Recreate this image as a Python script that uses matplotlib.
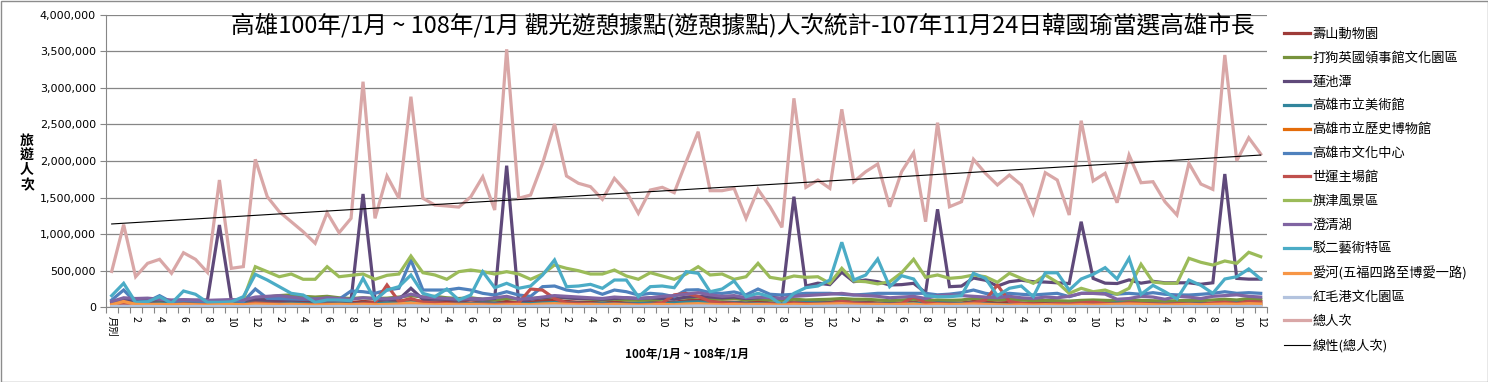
import numpy as np
import matplotlib
matplotlib.use('Agg')
import matplotlib.pyplot as plt
from matplotlib.ticker import FuncFormatter
from matplotlib.patches import Rectangle

plt.rcParams['font.family'] = ['Noto Sans CJK TC', 'DejaVu Sans']

# x categories: first one is labelled 月別, then months 1..12 for 8 years
tick_labels = ['月別'] + [str(m) for m in range(1, 13)] * 8

title = '高雄100年/1月 ~ 108年/1月 觀光遊憩據點(遊憩據點)人次統計-107年11月24日韓國瑜當選高雄市長'
x_title = '100年/1月 ~ 108年/1月'
y_title = '旅\n遊\n人\n次'

# values in thousands of visitors
shoushan_zoo = [60,
    80, 60, 70, 75, 60, 65, 70, 60, 70, 60, 55, 90,
    80, 70, 75, 70, 60, 70, 60, 65, 80, 70, 60, 80,
    100, 80, 70, 75, 70, 60, 70, 60, 80, 60, 70, 90,
    100, 80, 70, 70, 60, 70, 60, 55, 65, 60, 70, 90,
    100, 80, 70, 70, 60, 80, 60, 50, 70, 60, 65, 70,
    90, 70, 70, 60, 55, 60, 70, 50, 65, 60, 60, 80,
    70, 60, 65, 60, 50, 55, 50, 45, 60, 55, 60, 50,
    70, 60, 50, 45, 50, 60, 50, 55, 70, 60, 90, 80]
british_consulate = [60,
    80, 70, 75, 90, 80, 85, 80, 75, 80, 85, 90, 120,
    140, 160, 170, 150, 140, 150, 130, 120, 130, 120, 125, 140,
    160, 140, 150, 130, 120, 130, 110, 100, 120, 110, 120, 130,
    140, 130, 120, 110, 100, 110, 100, 95, 100, 110, 120, 130,
    140, 120, 110, 120, 100, 110, 100, 95, 110, 100, 105, 110,
    120, 110, 110, 100, 90, 100, 110, 90, 100, 95, 100, 120,
    110, 100, 110, 100, 90, 95, 90, 85, 95, 100, 95, 90,
    100, 95, 90, 85, 90, 95, 90, 100, 110, 100, 120, 110]
lotus_pond = [70,
    110, 90, 95, 100, 90, 95, 95, 100, 1125, 90, 90, 110,
    100, 100, 95, 100, 95, 100, 100, 100, 1549, 110, 100, 110,
    260, 110, 110, 110, 100, 110, 110, 120, 1936, 70, 110, 130,
    150, 130, 120, 120, 110, 120, 130, 120, 130, 120, 110, 140,
    150, 140, 130, 140, 120, 130, 140, 120, 1512, 290, 330, 310,
    480, 350, 373, 350, 305, 310, 328, 200, 1340, 282, 290, 400,
    370, 290, 350, 370, 350, 345, 335, 325, 1170, 395, 330, 325,
    375, 330, 355, 335, 335, 335, 315, 335, 1822, 395, 385, 385]
fine_arts_museum = [40,
    50, 45, 50, 55, 50, 45, 50, 45, 50, 55, 50, 60,
    55, 50, 55, 50, 45, 55, 50, 45, 55, 50, 60, 55,
    70, 60, 55, 50, 55, 50, 60, 55, 50, 45, 50, 60,
    65, 60, 55, 50, 55, 50, 45, 50, 55, 50, 60, 70,
    75, 60, 55, 60, 55, 50, 55, 45, 60, 65, 60, 55,
    70, 60, 55, 50, 45, 50, 55, 45, 60, 55, 50, 60,
    45, 40, 35, 40, 35, 40, 45, 40, 45, 50, 45, 60,
    55, 50, 45, 40, 45, 50, 45, 50, 55, 60, 50, 45]
history_museum = [20,
    25, 20, 22, 25, 20, 22, 25, 20, 25, 22, 20, 30,
    28, 25, 22, 25, 20, 25, 22, 20, 25, 22, 20, 30,
    35, 25, 22, 25, 20, 25, 22, 20, 25, 22, 20, 28,
    30, 25, 22, 25, 20, 25, 22, 20, 25, 22, 25, 30,
    32, 25, 22, 25, 20, 25, 22, 20, 28, 25, 22, 28,
    30, 25, 22, 25, 20, 25, 22, 20, 25, 22, 20, 28,
    25, 22, 20, 22, 20, 22, 20, 18, 22, 20, 22, 25,
    28, 25, 22, 20, 22, 25, 22, 25, 28, 25, 30, 28]
cultural_center = [100,
    236, 68, 80, 159, 70, 90, 85, 80, 90, 95, 80, 250,
    123, 120, 115, 110, 115, 120, 110, 223, 213, 191, 236, 260,
    647, 236, 236, 236, 260, 236, 191, 168, 213, 168, 150, 282,
    291, 236, 213, 236, 178, 236, 213, 168, 191, 178, 145, 236,
    240, 200, 190, 210, 170, 250, 178, 168, 178, 191, 191, 191,
    178, 168, 178, 191, 191, 191, 191, 191, 170, 180, 200, 236,
    191, 168, 191, 178, 168, 180, 191, 145, 191, 200, 191, 180,
    191, 178, 200, 178, 170, 168, 178, 191, 213, 191, 200, 191]
world_games_stadium = [40,
    50, 40, 45, 40, 35, 45, 40, 35, 40, 40, 35, 60,
    50, 45, 40, 40, 35, 45, 40, 40, 50, 60, 305, 80,
    120, 70, 60, 50, 45, 40, 45, 40, 50, 60, 250, 235,
    120, 60, 50, 45, 40, 45, 40, 35, 40, 60, 170, 190,
    150, 80, 60, 50, 45, 40, 50, 40, 60, 50, 45, 50,
    80, 60, 50, 45, 40, 50, 145, 60, 50, 45, 40, 60,
    100, 305, 80, 50, 45, 40, 50, 45, 60, 70, 50, 45,
    60, 50, 45, 40, 50, 45, 40, 60, 70, 50, 80, 70]
cijin = [np.nan] * 11 + [110, 555,
    487, 418, 455, 383, 383, 555, 418, 437, 455, 383, 437, 455,
    701, 473, 442, 383, 487, 510, 487, 455, 487, 455, 383, 455,
    578, 533, 500, 455, 455, 510, 428, 383, 473, 428, 383, 455,
    555, 442, 455, 383, 418, 601, 410, 383, 428, 410, 418, 328,
    533, 360, 350, 320, 350, 473, 656, 410, 442, 396, 410, 441,
    418, 342, 465, 396, 328, 441, 342, 191, 260, 213, 236, 178,
    260, 588, 346, 328, 328, 670, 615, 578, 633, 601, 752, 692]
chengcing_lake = [80,
    130, 120, 125, 110, 100, 105, 100, 95, 100, 105, 100, 140,
    150, 160, 140, 120, 110, 130, 120, 110, 130, 120, 115, 130,
    180, 140, 130, 120, 110, 120, 110, 130, 150, 110, 120, 140,
    160, 150, 140, 130, 120, 140, 130, 120, 130, 150, 160, 180,
    200, 170, 150, 160, 130, 140, 130, 120, 150, 160, 170, 180,
    190, 170, 160, 150, 130, 140, 150, 120, 160, 170, 160, 150,
    140, 130, 150, 130, 120, 140, 130, 150, 190, 190, 180, 110,
    120, 150, 140, 110, 150, 140, 120, 150, 160, 170, 150, 140]
pier2 = [159,
    328, 68, 75, 145, 55, 223, 178, 68, 68, 75, 145, 451,
    373, 282, 191, 168, 68, 100, 100, 90, 396, 100, 236, 282,
    441, 191, 145, 250, 100, 168, 487, 268, 328, 260, 291, 441,
    647, 282, 291, 314, 260, 373, 373, 145, 282, 291, 268, 487,
    465, 213, 250, 360, 145, 191, 145, 31, 191, 268, 291, 373,
    889, 373, 441, 660, 282, 432, 387, 159, 145, 145, 159, 465,
    396, 159, 260, 291, 145, 472, 472, 236, 387, 451, 542, 387,
    670, 178, 300, 213, 114, 373, 300, 191, 387, 418, 524, 387]
love_river = [35,
    80, 40, 35, 40, 35, 40, 35, 30, 35, 40, 35, 45,
    40, 35, 40, 35, 30, 35, 40, 35, 40, 35, 40, 45,
    60, 40, 35, 40, 35, 40, 35, 30, 35, 40, 35, 45,
    50, 40, 35, 40, 35, 40, 35, 30, 35, 40, 35, 45,
    50, 40, 35, 40, 35, 40, 35, 30, 40, 35, 40, 45,
    50, 40, 35, 40, 35, 40, 45, 30, 40, 35, 40, 45,
    40, 35, 30, 35, 30, 35, 30, 28, 35, 30, 35, 40,
    45, 40, 35, 30, 35, 40, 35, 40, 45, 40, 50, 45]
honggang = [10,
    15, 10, 12, 10, 8, 10, 12, 10, 12, 10, 8, 15,
    12, 10, 12, 10, 8, 10, 12, 10, 12, 10, 12, 15,
    20, 15, 12, 10, 12, 10, 12, 10, 12, 10, 12, 15,
    18, 15, 12, 10, 12, 10, 12, 10, 12, 10, 12, 15,
    18, 15, 12, 10, 12, 10, 12, 10, 12, 10, 12, 15,
    18, 15, 12, 10, 12, 10, 12, 10, 12, 10, 12, 15,
    12, 10, 8, 10, 8, 10, 8, 8, 10, 8, 10, 12,
    12, 10, 8, 10, 8, 10, 8, 10, 12, 10, 12, 10]
total = [490,
    1130, 418, 601, 656, 465, 746, 656, 478, 1740, 533, 556, 2023,
    1512, 1307, 1170, 1033, 875, 1293, 1020, 1216, 3084, 1216, 1795, 1490,
    2879, 1490, 1398, 1385, 1370, 1510, 1785, 1330, 3527, 1490, 1535, 1968,
    2506, 1795, 1695, 1649, 1476, 1763, 1580, 1285, 1603, 1640, 1567, 1990,
    2400, 1594, 1594, 1626, 1216, 1612, 1375, 1093, 2857, 1640, 1740, 1626,
    2707, 1717, 1854, 1959, 1375, 1854, 2113, 1170, 2524, 1375, 1443, 2023,
    1832, 1672, 1808, 1672, 1285, 1840, 1740, 1262, 2551, 1727, 1832, 1430,
    2082, 1703, 1717, 1443, 1262, 1968, 1685, 1612, 3449, 2004, 2318, 2096]

series_names = ['壽山動物園', '打狗英國領事館文化園區', '蓮池潭', '高雄市立美術館',
                '高雄市立歷史博物館', '高雄市文化中心', '世運主場館', '旗津風景區',
                '澄清湖', '駁二藝術特區', '愛河(五福四路至博愛一路)', '紅毛港文化園區', '總人次']
series_values = [shoushan_zoo, british_consulate, lotus_pond, fine_arts_museum,
                 history_museum, cultural_center, world_games_stadium, cijin,
                 chengcing_lake, pier2, love_river, honggang, total]
series_colors = ['#9e3b38', '#77933c', '#5f497a', '#31859c', '#e46c0a', '#4f81bd',
                 '#c0504d', '#9bbb59', '#8064a2', '#4bacc6', '#f79646', '#b3c3de', '#d9a7a7']
trend_name = '線性(總人次)'

W, H = 1488, 382
fig = plt.figure(figsize=(W / 100, H / 100), dpi=100)
ax = fig.add_axes([105.7 / W, 1 - 307.3 / H, (1266.7 - 105.7) / W, (307.3 - 14.7) / H])

x = np.arange(len(tick_labels))
handles = []
for name, vals, col in zip(series_names, series_values, series_colors):
    y = np.array(vals, dtype=float) * 1000
    ln, = ax.plot(x, y, color=col, lw=2.3, solid_joinstyle='miter', label=name)
    handles.append(ln)

# linear trend of the total
tot = np.array(total, dtype=float) * 1000
coef = np.polyfit(x, tot, 1)
tl, = ax.plot(x, np.polyval(coef, x), color='black', lw=0.8, label=trend_name)
handles.append(tl)

ax.set_xlim(-0.5, len(tick_labels) - 0.5)
ax.set_ylim(0, 4000000)
ax.set_yticks(np.arange(0, 4000001, 500000))
ax.yaxis.set_major_formatter(FuncFormatter(lambda v, p: f'{int(v):,}'))
for t in ax.get_yticklabels():
    t.set_fontfamily('DejaVu Sans')
ax.tick_params(axis='y', labelsize=8, length=4, color='#868686', pad=3)
ax.yaxis.grid(True, color='#868686', lw=0.9)
ax.set_axisbelow(True)

ax.set_xticks(np.arange(-0.5, len(tick_labels), 1))
ax.set_xticklabels([])
ax.tick_params(axis='x', which='major', length=4, color='#868686')
ax.set_xticks(x[::2], minor=True)
ax.set_xticklabels(tick_labels[::2], minor=True, rotation=-90, fontsize=7.5)
ax.tick_params(axis='x', which='minor', length=0, pad=6)

for s in ['top', 'right']:
    ax.spines[s].set_visible(False)
for s in ['left', 'bottom']:
    ax.spines[s].set_color('#868686')

fig.text(743 / W, 1 - 26 / H, title, ha='center', va='center', fontsize=17)
fig.text(27 / W, 1 - 163 / H, y_title, ha='center', va='center', fontsize=10,
         fontweight='bold', linespacing=1.05)
fig.text(687 / W, 1 - 355 / H, x_title, ha='center', va='center', fontsize=8.5,
         fontweight='bold')

fig.legend(handles=handles, loc='upper left', bbox_to_anchor=(1284 / W, 1 - 28 / H),
           frameon=False, fontsize=9.5, handlelength=2.0, handletextpad=0.15,
           labelspacing=0.82, borderaxespad=0, borderpad=0)

fig.add_artist(Rectangle((0.5 / W, 0.5 / H), (W - 1) / W, (H - 1) / H,
                         transform=fig.transFigure, fill=False, edgecolor='#8c8c8c', lw=1))

fig.savefig('out.png', dpi=100)
